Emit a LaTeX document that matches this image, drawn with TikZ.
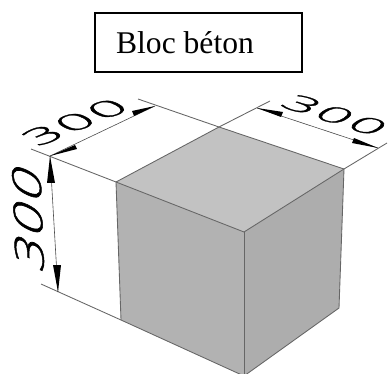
\documentclass[tikz,border=0pt]{standalone}
\usepackage{fontspec}
\setmainfont{Liberation Serif}
\newfontfamily\dimfont[FakeBold=1.2]{DejaVu Sans ExtraLight}
\tikzset{
  px/.style={x=0.75pt,y=-0.75pt},
  edge/.style={draw=black!60,line width=0.65pt},
  dimline/.style={draw=black!70,line width=0.45pt},
  dimtip/.style={fill=black,draw=none},
  dimtext/.style={inner sep=0pt,font=\dimfont\fontsize{10}{10}\selectfont,text=black}
}
\begin{document}
\begin{tikzpicture}[px]
\useasboundingbox (0,0) rectangle (389,374);
\coordinate (back) at (219,127);
\coordinate (left) at (116,182);
\coordinate (right) at (344,169);
\coordinate (front) at (244,232);
\coordinate (leftb) at (121,320);
\coordinate (frontb) at (244,376);
\coordinate (rightb) at (339,308);
\coordinate (e1) at (31,149);
\coordinate (e2) at (138,99);
\coordinate (e3) at (270,101);
\coordinate (e4) at (387,143);
\coordinate (e5) at (41,284);
\coordinate (a1) at (50,156);
\coordinate (a2) at (155,106);
\coordinate (a3) at (257,108);
\coordinate (a4) at (378,148);
\coordinate (a5) at (58,292);
\fill[fill=black!24] (back) -- (right) -- (front) -- (left) -- cycle;
\fill[fill=black!30] (left) -- (front) -- (frontb) -- (leftb) -- cycle;
\fill[fill=black!32] (front) -- (right) -- (rightb) -- (frontb) -- cycle;
\draw[edge] (e1) -- (left) -- (front) -- (right);
\draw[edge] (e2) -- (back) -- (right) -- (rightb) -- (frontb);
\draw[edge] (left) -- (back) -- (e3);
\draw[edge] (right) -- (e4);
\draw[edge] (front) -- (frontb);
\draw[edge] (left) -- (leftb);
\draw[edge] (e5) -- (leftb) -- (frontb);
\draw[dimline] (a1) -- (a2);
\draw[dimline] (a3) -- (a4);
\draw[dimline] (a1) -- (a5);
\fill[dimtip] (a1) -- (75,145) -- (77,149) -- cycle;
\fill[dimtip] (a2) -- (132,111) -- (134,116) -- cycle;
\fill[dimtip] (a3) -- (283,112) -- (281,117) -- cycle;
\fill[dimtip] (a4) -- (354,138) -- (352,143) -- cycle;
\fill[dimtip] (a1) -- (47,183) -- (55,183) -- cycle;
\fill[dimtip] (a5) -- (53,265) -- (61,265) -- cycle;
\node[dimtext,cm={3.8,1.55,-2.1,1.2,(0,0)}] (d1) at (75,122) {300};
\node[dimtext,cm={3.9,-1.25,1.875,1.25,(0,0)}] (d2) at (335,115) {300};
\node[dimtext,cm={-0.15,4.1,-2.925,1.35,(0,0)}] (d3) at (28,217) {300};
\node[draw=black,line width=1pt,inner xsep=0pt,inner ysep=0pt,minimum height=44.25pt,font=\fontsize{23.7}{26}\selectfont] (title) at (198.5,42.5) {\hspace*{15.75pt}Bloc béton\hspace*{36pt}};
\end{tikzpicture}
\end{document}
